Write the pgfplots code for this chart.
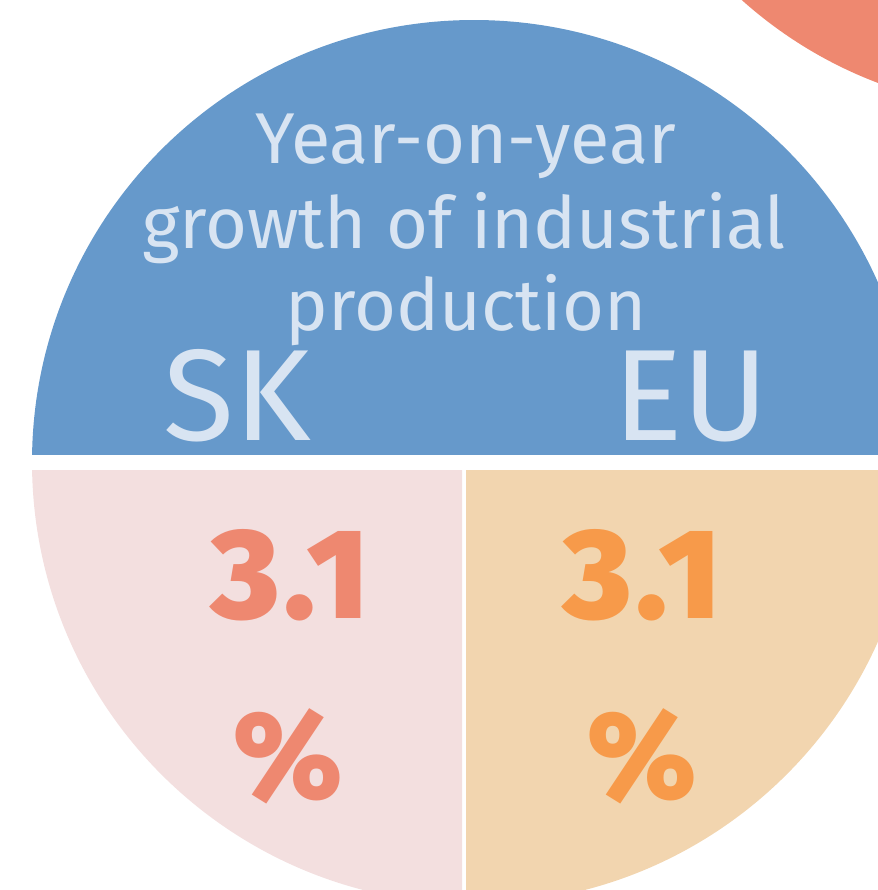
\documentclass[border=0pt]{standalone}
\usepackage{fontspec}
\setmainfont{Fira Sans}
\newfontfamily\heavy[LetterSpace=4]{Fira Sans Black}
\usepackage{pgfplots}
\pgfplotsset{compat=1.18}

\definecolor{topblue}{HTML}{6699CB}
\definecolor{paletxt}{HTML}{D8E4F2}
\definecolor{skbg}{HTML}{F3DFDF}
\definecolor{eubg}{HTML}{F2D5AF}
\definecolor{sktxt}{HTML}{EE8870}
\definecolor{eutxt}{HTML}{F79A4A}

\begin{document}
\begin{tikzpicture}
\begin{axis}[
  width=439pt, height=445pt, scale only axis,
  xmin=0, xmax=878, ymin=0, ymax=890,
  y dir=reverse, hide axis, clip=false,
]
% background shapes (1 unit = 0.5pt)
\fill[sktxt] (axis cs:1032,-324) circle[radius=217.5pt];
\begin{scope}
  \clip (axis cs:0,0) rectangle (axis cs:878,454);
  \fill[topblue] (axis cs:474,462) circle[radius=221pt];
\end{scope}
\begin{scope}
  \clip (axis cs:0,470) rectangle (axis cs:462,890);
  \fill[skbg] (axis cs:474,462) circle[radius=221pt];
\end{scope}
\begin{scope}
  \clip (axis cs:466,470) rectangle (axis cs:878,890);
  \fill[eubg] (axis cs:474,462) circle[radius=221pt];
\end{scope}

% title
\node[text=paletxt, font=\fontsize{36}{42}\selectfont, anchor=base] at (axis cs:466,163) {Year-on-year};
\node[text=paletxt, font=\fontsize{36}{42}\selectfont, anchor=base] at (axis cs:464,248) {growth of industrial};
\node[text=paletxt, font=\fontsize{36}{42}\selectfont, anchor=base] at (axis cs:466,330) {production};
\node[text=paletxt, font=\fontsize{65}{70}\selectfont, anchor=base] at (axis cs:237,440) {SK};
\node[text=paletxt, font=\fontsize{65}{70}\selectfont, anchor=base] at (axis cs:691,440) {EU};

% values
\addplot[draw=none, mark=none, point meta=explicit symbolic,
  nodes near coords,
  every node near coord/.append style={text=sktxt, anchor=base, inner sep=0pt,
    font=\heavy\fontsize{64}{70}\selectfont}]
  coordinates {(290,618) [3.1]};
\addplot[draw=none, mark=none, point meta=explicit symbolic,
  nodes near coords,
  every node near coord/.append style={text=eutxt, anchor=base, inner sep=0pt,
    font=\heavy\fontsize{64}{70}\selectfont}]
  coordinates {(642,618) [3.1]};

\node[text=sktxt, font=\heavy\fontsize{62}{70}\selectfont, anchor=base, inner sep=0pt] at (axis cs:288,798) {\%};
\node[text=eutxt, font=\heavy\fontsize{62}{70}\selectfont, anchor=base, inner sep=0pt] at (axis cs:642,798) {\%};
\end{axis}
\pgfresetboundingbox
\path[use as bounding box] (0,0) rectangle (439pt,445pt);
\end{tikzpicture}
\end{document}
